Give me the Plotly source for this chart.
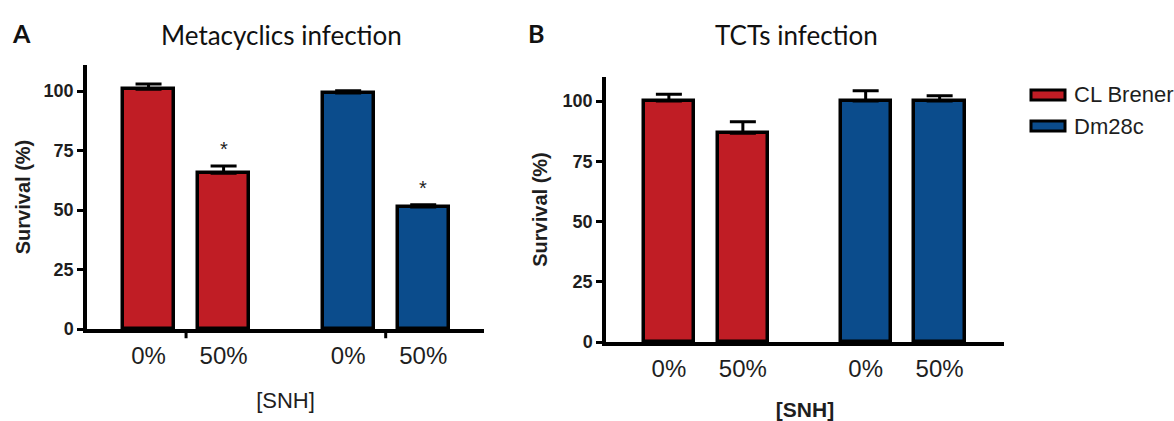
import plotly.graph_objects as go

# ---------------- data ----------------
conditions = ["0%", "50%"]
strains = ["CL Brener", "Dm28c"]
strain_colors = ["#C01D25", "#0B4C8C"]

meta_values = {"CL Brener": [100.8, 65.5], "Dm28c": [99.2, 51.3]}
meta_errors = {"CL Brener": [2.2, 3.0], "Dm28c": [1.0, 0.9]}
meta_sig = {"CL Brener": ["", "*"], "Dm28c": ["", "*"]}

tct_values = {"CL Brener": [100.0, 86.7], "Dm28c": [100.0, 100.0]}
tct_errors = {"CL Brener": [2.8, 4.7], "Dm28c": [4.3, 2.2]}
tct_sig = {"CL Brener": ["", ""], "Dm28c": ["", ""]}

y_ticks = [0, 25, 50, 75, 100]
panel_titles = ["Metacyclics infection", "TCTs infection"]
panel_letters = ["A", "B"]
x_title = "[SNH]"
y_title = "Survival (%)"

# ---------------- layout constants ----------------
W, H = 1174, 421
GROUP_GAP = 0.66
BAR_W = 0.68
TEXT = "#1e1e1e"
SANS = "Liberation Sans, Arial, sans-serif"


def px_x(p):
    return p / W


def px_y(p):
    return 1 - p / H


def xpos(g, i):
    return g * (len(conditions) + GROUP_GAP) + i


fig = go.Figure()

panels = [
    dict(vals=meta_values, errs=meta_errors, sig=meta_sig, xa="x", ya="y",
         xdom=(87, 484), ydom=(65, 329), xr=(-0.82, 4.47), yr=(0, 111),
         xstand=26, ystand=9, xbold=False),
    dict(vals=tct_values, errs=tct_errors, sig=tct_sig, xa="x2", ya="y2",
         xdom=(606, 1004), ydom=(77, 342), xr=(-0.85, 4.53), yr=(0, 110),
         xstand=30, ystand=11, xbold=True),
]

annotations = []
shapes = []

for p_idx, p in enumerate(panels):
    tickvals, ticktext = [], []
    for g, s in enumerate(strains):
        xs = [xpos(g, i) for i in range(len(conditions))]
        tickvals += xs
        ticktext += conditions
        fig.add_trace(go.Bar(
            x=xs, y=p["vals"][s], width=BAR_W, name=s,
            marker=dict(color=strain_colors[g], line=dict(color="black", width=3.5)),
            error_y=dict(type="data", symmetric=False, array=p["errs"][s],
                         arrayminus=[0] * len(conditions), color="black",
                         thickness=3, width=13),
            xaxis=p["xa"], yaxis=p["ya"], showlegend=False,
        ))
        for i, c in enumerate(conditions):
            mark = p["sig"][s][i]
            if mark:
                annotations.append(dict(
                    x=xs[i], y=p["vals"][s][i] + p["errs"][s][i], xref=p["xa"], yref=p["ya"],
                    text=mark, showarrow=False, yanchor="bottom", yshift=4,
                    font=dict(family=SANS, size=20, color=TEXT)))
        # group separator tick (panel A only)
        if p_idx == 0:
            mid = (xs[0] + xs[1]) / 2
            shapes.append(dict(type="line", xref=p["xa"], yref=p["ya"] + " domain",
                               x0=mid, x1=mid, y0=0, y1=-0.035,
                               line=dict(color="black", width=3)))

    ax_suffix = "" if p_idx == 0 else "2"
    fig.update_layout(**{
        "xaxis" + ax_suffix: dict(
            domain=[px_x(p["xdom"][0]), px_x(p["xdom"][1])], range=list(p["xr"]),
            tickvals=tickvals, ticktext=ticktext, ticks="", showline=True,
            linecolor="black", linewidth=3.5, showgrid=False, zeroline=False,
            tickfont=dict(family=SANS, size=24, color=TEXT),
            ticklabelstandoff=2, anchor="y" + ax_suffix, automargin=False,
            title=dict(text=x_title, standoff=p["xstand"],
                       font=dict(family=SANS, size=21 if p["xbold"] else 22,
                                 color=TEXT, weight="bold" if p["xbold"] else "normal")),
        ),
        "yaxis" + ax_suffix: dict(
            domain=[px_y(p["ydom"][1]), px_y(p["ydom"][0])], range=list(p["yr"]),
            tickvals=y_ticks, ticks="outside", ticklen=6, tickwidth=3, tickcolor="black",
            showline=True, linecolor="black", linewidth=3.5, showgrid=False, zeroline=False,
            tickfont=dict(family=SANS, size=18, color=TEXT, weight="bold"),
            anchor="x" + ax_suffix, automargin=False,
            title=dict(text=y_title, standoff=p["ystand"],
                       font=dict(family=SANS, size=20, color=TEXT, weight="bold")),
        ),
    })

# panel titles and letters
title_pos = [(281, 35), (796, 35)]
letter_pos = [(21, 33), (536, 33)]
for k in range(2):
    annotations.append(dict(x=px_x(title_pos[k][0]), y=px_y(title_pos[k][1]), xref="paper", yref="paper",
                            text=panel_titles[k], showarrow=False, xanchor="center", yanchor="middle",
                            font=dict(family="Lato, Open Sans", size=26, color="#111")))
    annotations.append(dict(x=px_x(letter_pos[k][0]), y=px_y(letter_pos[k][1]), xref="paper", yref="paper",
                            text="<b>" + panel_letters[k] + "</b>", showarrow=False,
                            xanchor="center", yanchor="middle",
                            font=dict(family="Lato, Open Sans", size=25, color="#111")))

# custom legend
leg_rows = [95, 126]
for g, s in enumerate(strains):
    cy = leg_rows[g]
    shapes.append(dict(type="rect", xref="paper", yref="paper",
                       x0=px_x(1031), x1=px_x(1065), y0=px_y(cy + 5), y1=px_y(cy - 5),
                       fillcolor=strain_colors[g], line=dict(color="black", width=3)))
    annotations.append(dict(x=px_x(1072), y=px_y(cy), xref="paper", yref="paper", text=s,
                            showarrow=False, xanchor="left", yanchor="middle",
                            font=dict(family=SANS, size=22, color=TEXT)))

fig.update_layout(
    width=W, height=H, margin=dict(l=0, r=0, t=0, b=0),
    paper_bgcolor="white", plot_bgcolor="white",
    showlegend=False, bargap=0, annotations=annotations, shapes=shapes,
)

fig.write_html("out.html")
